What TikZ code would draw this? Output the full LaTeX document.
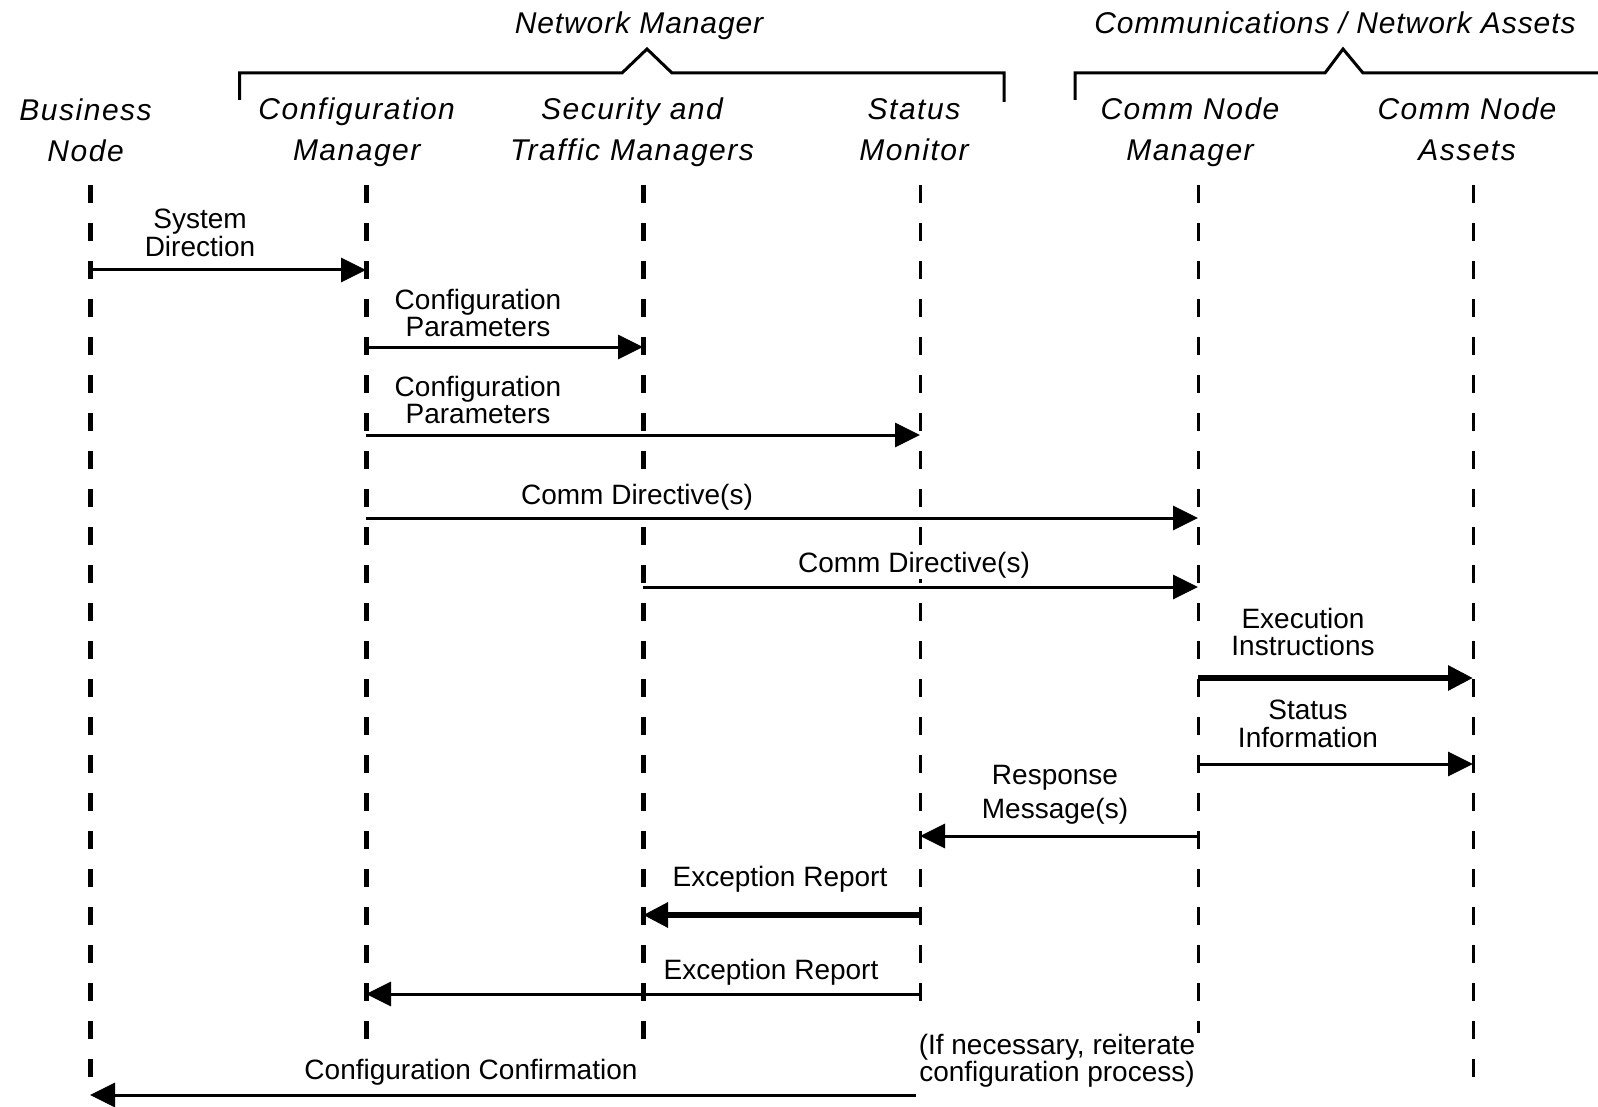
\documentclass[tikz,border=0pt]{standalone}
\usepackage{fontspec}
\setmainfont{Liberation Sans}
\usetikzlibrary{arrows.meta}

\begin{document}
\begin{tikzpicture}[x=1pt,y=-1pt,
  lifethick/.style={line width=5pt, dash pattern=on 18pt off 20pt},
  lifethin/.style={line width=3pt, dash pattern=on 18pt off 20pt},
  msg/.style={line width=3pt, -{Triangle[length=25pt,width=24pt]}},
  msgbold/.style={line width=6pt, -{Triangle[length=25pt,width=24pt]}},
  head/.style={font=\fontsize{30}{41}\selectfont\itshape\addfontfeature{LetterSpace=5}, align=center, inner sep=0pt},
  grp/.style={font=\fontsize{30}{36}\selectfont\itshape\addfontfeature{LetterSpace=3}, inner sep=0pt},
  lbl/.style={font=\fontsize{28}{27.5}\selectfont, align=center, inner sep=1pt, fill=white},
  bracket/.style={line width=3pt, line join=miter}
]
% canvas
\fill[white] (0,0) rectangle (1598,1107);
\useasboundingbox (0,0) rectangle (1598,1107);

% group captions and their brackets
\node[grp] (gnm) at (639,26) {Network Manager};
\node[grp] (gca) at (1335,23) {Communications / Network Assets};
\draw[bracket] (239.5,100) -- (239.5,73) -- (622,73) -- (647,49) -- (672,73) -- (1004,73) -- (1004,102);
\draw[bracket] (1075,100) -- (1075,73) -- (1325,73) -- (1343,49) -- (1363,73) -- (1598,73);

% participant headings
\node[head] (hbus) at (85.6,130) {Business\\Node};
\node[head] (hcfg) at (356.7,132) {Configuration\\Manager};
\node[head] (hsec) at (632,132) {Security and\\Traffic Managers};
\node[head] (hsta) at (914,130) {Status\\Monitor};
\node[head] (hcnm) at (1190,132) {Comm Node\\Manager};
\node[head] (hcna) at (1467,129) {Comm Node\\Assets};

% lifelines
\coordinate (L1) at (90,185);   \coordinate (E1) at (90,1095);
\coordinate (L2) at (366,185);  \coordinate (E2) at (366,1045);
\coordinate (L3) at (643,185);  \coordinate (E3) at (643,1045);
\coordinate (L4) at (920,185);  \coordinate (E4) at (920,1020);
\coordinate (L5) at (1198,185); \coordinate (E5) at (1198,1085);
\coordinate (L6) at (1473,185); \coordinate (E6) at (1473,1085);
\draw[lifethick] (L1) -- (E1);
\draw[lifethick] (L2) -- (E2);
\draw[lifethick] (L3) -- (E3);
\draw[lifethin] (L4) -- (E4);
\draw[lifethin] (L5) -- (E5);
\draw[lifethin] (L6) -- (E6);

% messages
\draw[msg] (L1 |- 0,270) -- (L2 |- 0,270);
\node[lbl] (m1) at (200,233) {System\\Direction};

\draw[msg] (L2 |- 0,347) -- (L3 |- 0,347);
\node[lbl] (m2) at (478,313) {Configuration\\Parameters};

\draw[msg] (L2 |- 0,435) -- (L4 |- 0,435);
\node[lbl] (m3) at (478,400) {Configuration\\Parameters};

\draw[msg] (L2 |- 0,518) -- (L5 |- 0,518);
\node[lbl] (m4) at (637,497) {Comm Directive(s)};

\draw[msg] (L3 |- 0,587) -- (L5 |- 0,587);
\node[lbl] (m5) at (914,565) {Comm Directive(s)};

\draw[msgbold] (L5 |- 0,678) -- (L6 |- 0,678);
\node[lbl] (m6) at (1303,632) {Execution\\Instructions};

\draw[msg] (L5 |- 0,764) -- (L6 |- 0,764);
\node[lbl] (m7) at (1308,724) {Status\\Information};

\draw[msg] (L5 |- 0,836) -- (L4 |- 0,836);
\node[lbl, font=\fontsize{28}{33.5}\selectfont] (m8) at (1055,795) {Response\\Message(s)};

\draw[msgbold] (L4 |- 0,915) -- (L3 |- 0,915);
\node[lbl] (m9) at (780,879) {Exception Report};

\draw[msg] (L4 |- 0,994) -- (L2 |- 0,994);
\node[lbl] (m10) at (771,972) {Exception Report};

\coordinate (cc) at (916,1095);
\draw[msg] (cc) -- (L1 |- cc);
\node[lbl] (m11) at (471,1072) {Configuration Confirmation};

\node[lbl, inner xsep=7pt] (note) at (1057,1061) {(If necessary, reiterate\\configuration process)};
\end{tikzpicture}
\end{document}
